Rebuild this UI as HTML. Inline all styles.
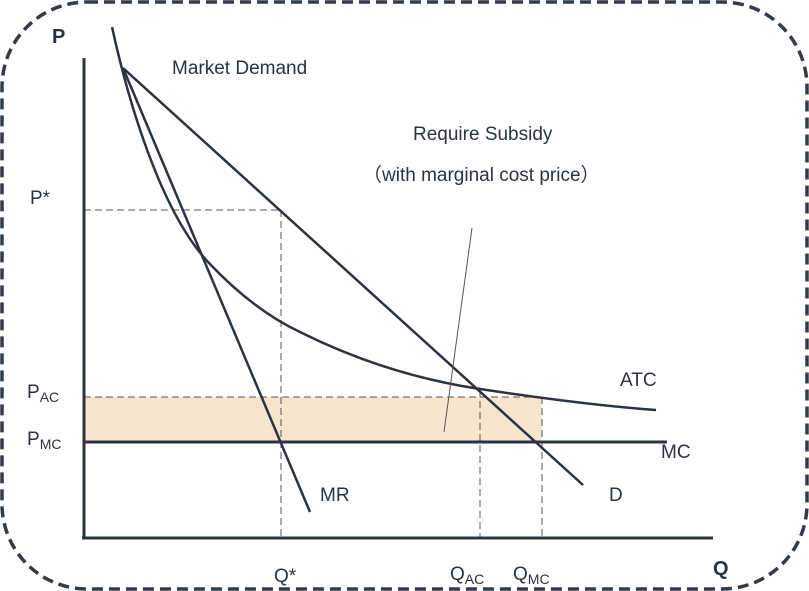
<!DOCTYPE html>
<html><head><style>
body{margin:0;background:#fff}
svg{display:block}
text{font-family:"Liberation Sans","DejaVu Sans",sans-serif;fill:#2b3340}
</style></head><body>
<svg width="809" height="591" viewBox="0 0 809 591" xmlns="http://www.w3.org/2000/svg">
<rect x="2" y="2" width="805" height="587" rx="85" ry="85" fill="none" stroke="#333b48" stroke-width="3.5" stroke-dasharray="11,6"/>
<rect x="84" y="397" width="458" height="45" fill="#f8e5cd"/>
<g stroke="#555" stroke-width="1" stroke-dasharray="7,4" fill="none">
<line x1="84" y1="210" x2="281" y2="210"/>
<line x1="84" y1="397" x2="542" y2="397"/>
<line x1="281" y1="210" x2="281" y2="538"/>
<line x1="480" y1="390" x2="480" y2="538"/>
<line x1="542" y1="397" x2="542" y2="538"/>
</g>
<g stroke="#2b3340" fill="none" stroke-width="3">
<line x1="84" y1="58" x2="84" y2="539"/>
<line x1="82" y1="538" x2="713" y2="538"/>
<line x1="84" y1="442" x2="667" y2="442"/>
</g>
<g stroke="#2b3340" fill="none" stroke-width="2.5">
<line x1="123" y1="68" x2="583" y2="485"/>
<line x1="123" y1="68" x2="310" y2="512"/>
<path d="M112,27 C128,100 160,210 208,262 C240,296 270,318 300,332 C360,362 420,380 480,389 C540,398 600,406 656,410"/>
</g>
<line x1="472" y1="228" x2="444" y2="432" stroke="#555" stroke-width="1"/>
<text x="52" y="43" font-size="20" font-weight="bold">P</text>
<text x="713" y="575" font-size="20" font-weight="bold">Q</text>
<text x="172" y="74" font-size="19">Market Demand</text>
<text x="413" y="140" font-size="19">Require Subsidy</text>
<text x="363" y="181" font-size="19">（with marginal cost price）</text>
<text x="30" y="204" font-size="19">P*</text>
<text x="27" y="398" font-size="19">P<tspan font-size="14" dy="4">AC</tspan></text>
<text x="27" y="445" font-size="19">P<tspan font-size="14" dy="4">MC</tspan></text>
<text x="620" y="386" font-size="19">ATC</text>
<text x="661" y="458" font-size="19">MC</text>
<text x="609" y="501" font-size="19">D</text>
<text x="320" y="501" font-size="19">MR</text>
<text x="274" y="582" font-size="19">Q*</text>
<text x="450" y="580" font-size="19">Q<tspan font-size="14" dy="4">AC</tspan></text>
<text x="513" y="580" font-size="19">Q<tspan font-size="14" dy="4">MC</tspan></text>
</svg>
</body></html>
